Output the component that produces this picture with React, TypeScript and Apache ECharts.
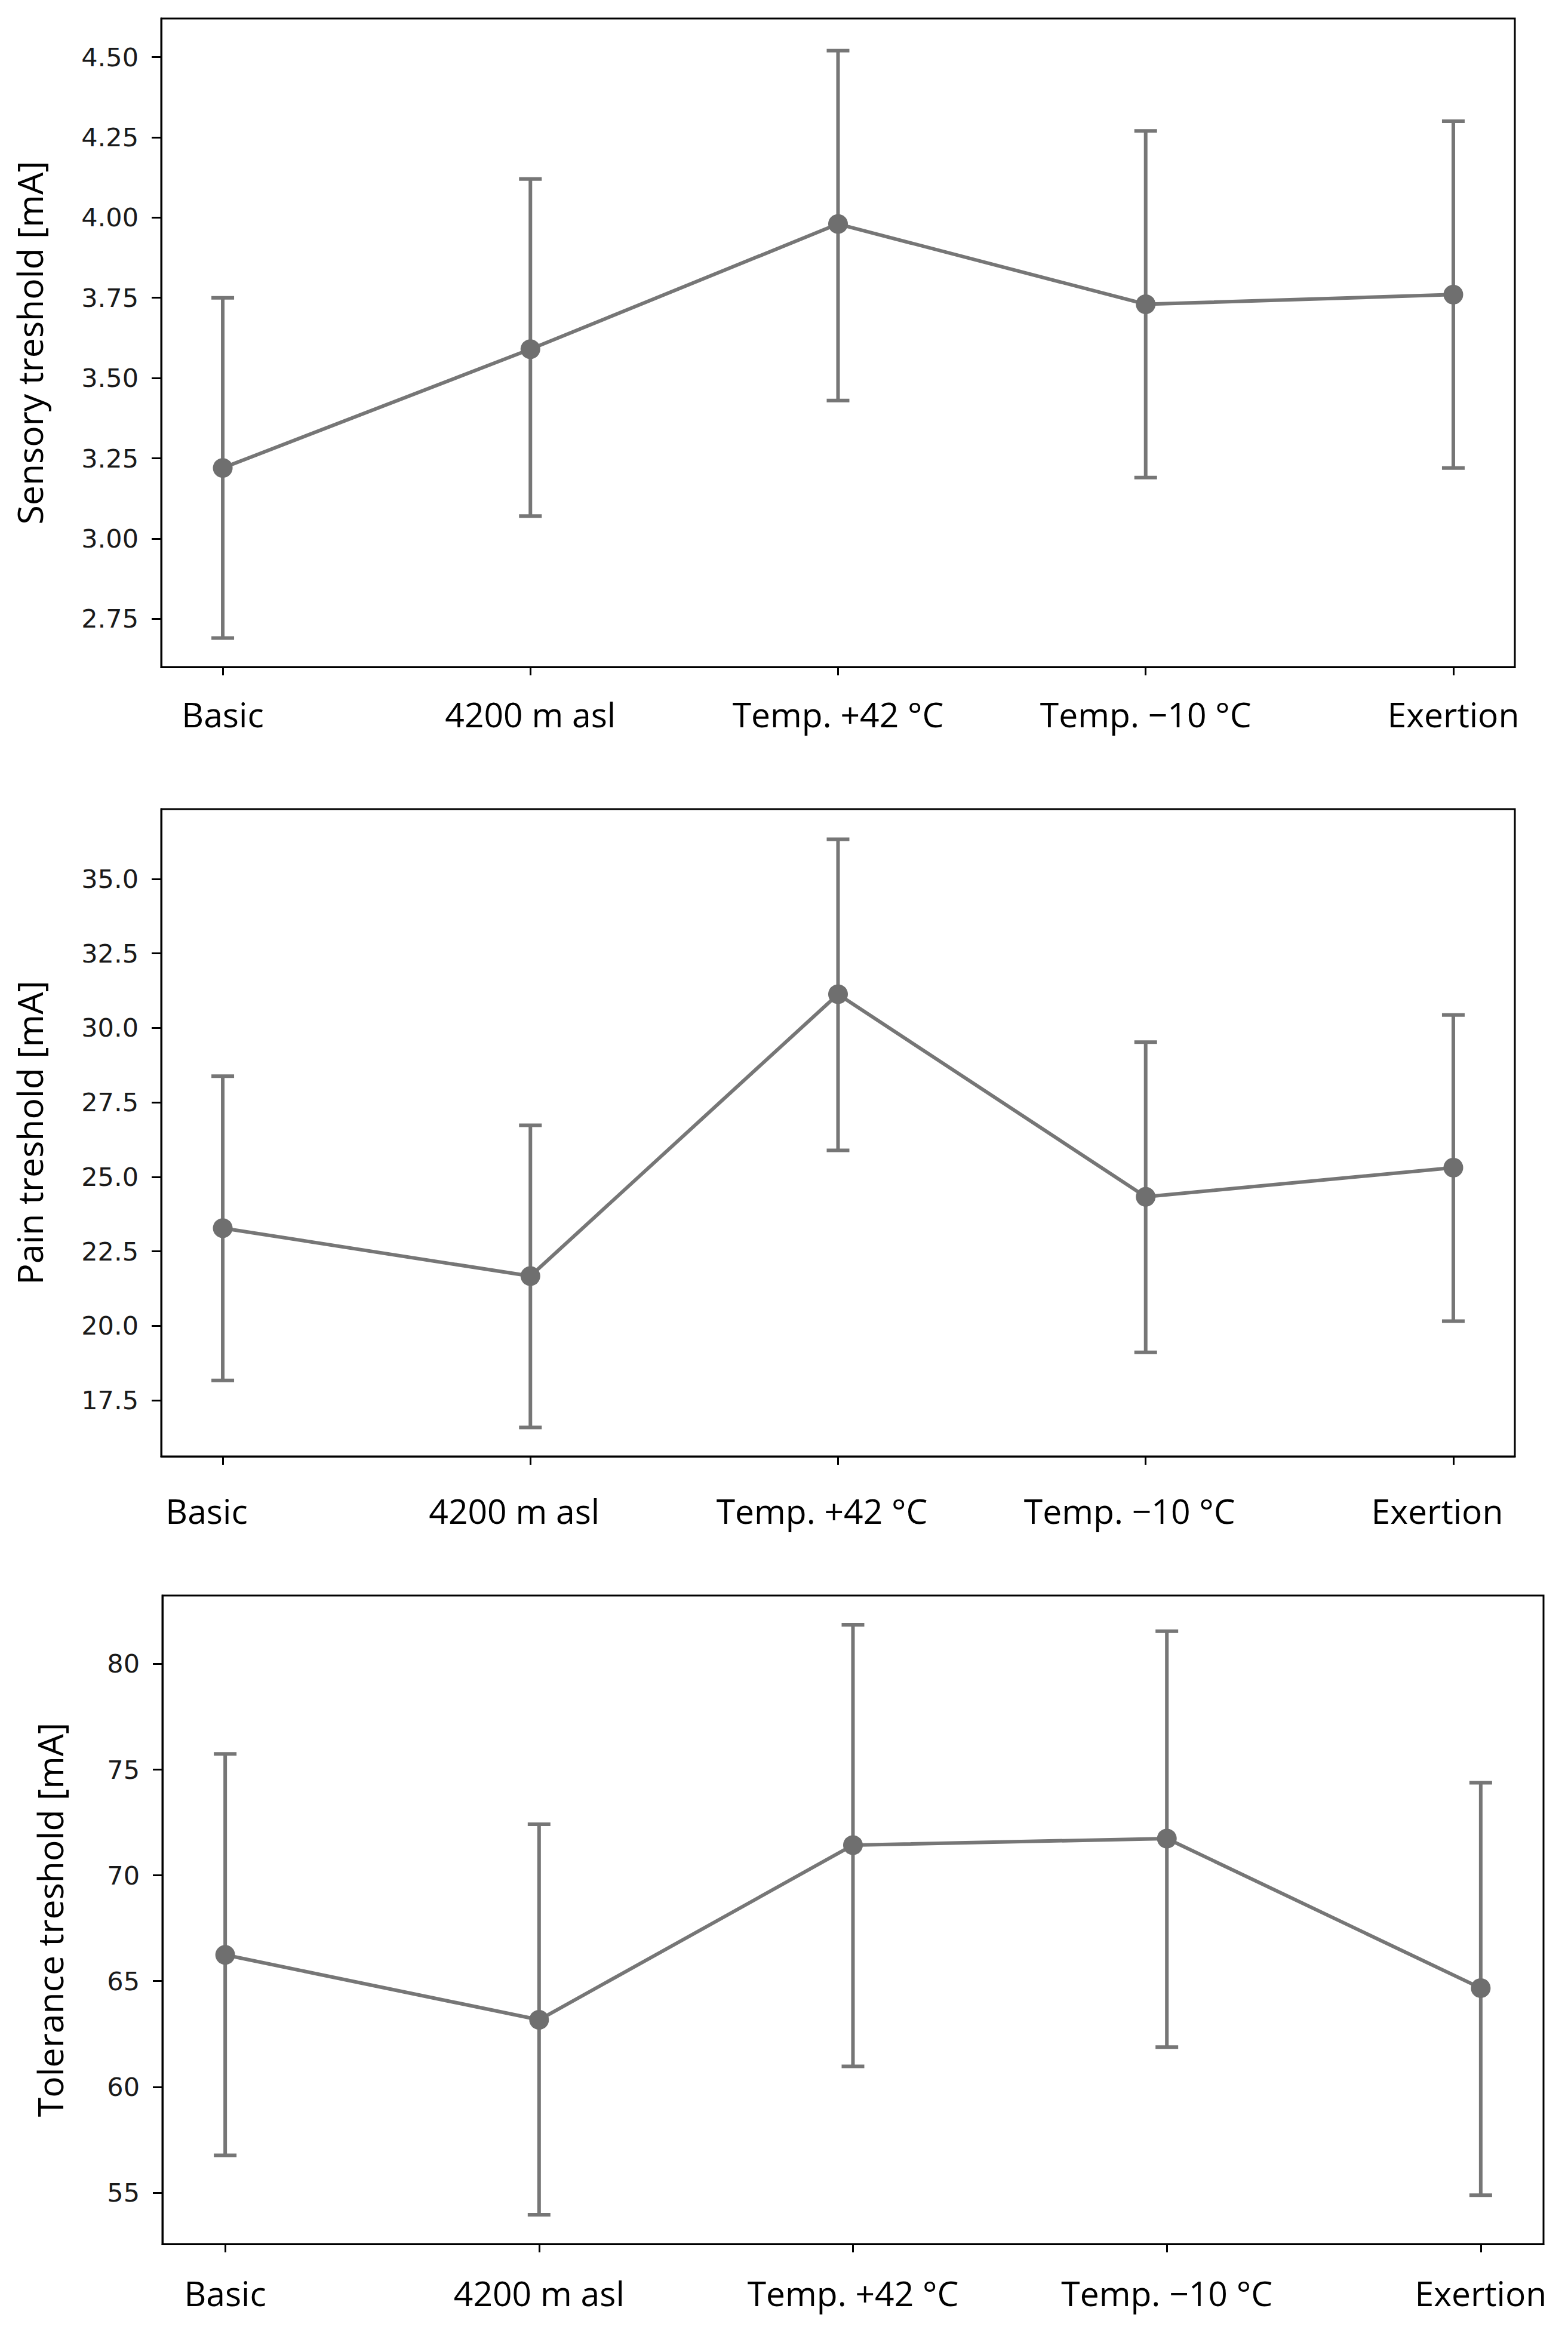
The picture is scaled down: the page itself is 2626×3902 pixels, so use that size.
import React, { useEffect, useRef } from "react";
import * as echarts from "echarts";

const categories = ["Basic", "4200 m asl", "Temp. +42 °C", "Temp. \u221210 °C", "Exertion"];

const sensoryMean = [3.22, 3.59, 3.98, 3.73, 3.76];
const sensoryLow = [2.69, 3.07, 3.43, 3.19, 3.22];
const sensoryHigh = [3.75, 4.12, 4.52, 4.27, 4.30];
const sensoryTicks = [2.75, 3.0, 3.25, 3.5, 3.75, 4.0, 4.25, 4.5];

const painMean = [23.28, 21.67, 31.13, 24.33, 25.31];
const painLow = [18.17, 16.59, 25.89, 19.11, 20.16];
const painHigh = [28.38, 26.73, 36.33, 29.52, 30.43];
const painTicks = [17.5, 20.0, 22.5, 25.0, 27.5, 30.0, 32.5, 35.0];

const toleranceMean = [66.24, 63.17, 71.43, 71.74, 64.67];
const toleranceLow = [56.76, 53.95, 60.97, 61.88, 54.88];
const toleranceHigh = [75.74, 72.42, 81.85, 81.54, 74.38];
const toleranceTicks = [55, 60, 65, 70, 75, 80];

const panels = [
  { name: "Sensory treshold [mA]", mean: sensoryMean, low: sensoryLow, high: sensoryHigh, ticks: sensoryTicks, min: 2.6, max: 4.62, dec: 2,
    grid: { left: 270, top: 31, width: 2267, height: 1086 }, xMargin: 50, xShift: 0, nameGap: 192 },
  { name: "Pain treshold [mA]", mean: painMean, low: painLow, high: painHigh, ticks: painTicks, min: 15.62, max: 37.34, dec: 1,
    grid: { left: 270, top: 1355, width: 2267, height: 1084 }, xMargin: 62, xShift: 27, nameGap: 192 },
  { name: "Tolerance treshold [mA]", mean: toleranceMean, low: toleranceLow, high: toleranceHigh, ticks: toleranceTicks, min: 52.57, max: 83.23, dec: 0,
    grid: { left: 272, top: 2672, width: 2313, height: 1086 }, xMargin: 53, xShift: 0, nameGap: 160 },
];

const LINE = "#767676";
const MARK = "#6f6f6f";
const catIdx = categories.map((_, i) => i);

export default function App() {
  const ref = useRef<HTMLDivElement>(null);
  useEffect(() => {
    if (!ref.current) return;
    const chart = echarts.init(ref.current, null, { renderer: "svg" });
    const grids: any[] = [];
    const xAxes: any[] = [];
    const yAxes: any[] = [];
    const series: any[] = [];
    panels.forEach((p, k) => {
      grids.push({ ...p.grid, show: true, borderColor: "#000", borderWidth: 3, containLabel: false });
      xAxes.push({
        type: "value", gridIndex: k, min: -0.2, max: 4.2,
        axisLine: { show: true, onZero: false, lineStyle: { color: "#000", width: 3 } },
        axisTick: { show: true, length: 14, customValues: catIdx, lineStyle: { color: "#000", width: 3 } },
        axisLabel: {
          show: true, customValues: catIdx, margin: p.xMargin,
          formatter: (v: number) => categories[Math.round(v)] ?? "",
          fontFamily: "Open Sans", fontSize: 57, color: "#000",
          padding: [0, p.xShift * 2, 0, 0],
        },
        splitLine: { show: false },
      });
      yAxes.push({
        type: "value", gridIndex: k, min: p.min, max: p.max,
        name: p.name, nameLocation: "middle", nameGap: p.nameGap, nameRotate: 90,
        nameTextStyle: { fontFamily: "Open Sans", fontSize: 59, color: "#000" },
        axisLine: { show: true, onZero: false, lineStyle: { color: "#000", width: 3 } },
        axisTick: { show: true, length: 16, customValues: p.ticks, lineStyle: { color: "#000", width: 3 } },
        axisLabel: {
          show: true, customValues: p.ticks, margin: 38,
          formatter: (v: number) => v.toFixed(p.dec),
          fontFamily: "DejaVu Sans", fontSize: 43, color: "#1a1a1a",
        },
        splitLine: { show: false },
      });
      series.push({
        type: "custom", xAxisIndex: k, yAxisIndex: k, z: 2,
        data: catIdx.map((i) => [i, p.low[i], p.high[i]]),
        renderItem: (params: any, api: any) => {
          const x = api.value(0);
          const lo = api.coord([x, api.value(1)]);
          const hi = api.coord([x, api.value(2)]);
          const hw = 19;
          const style = { stroke: LINE, lineWidth: 6 };
          return {
            type: "group",
            children: [
              { type: "line", shape: { x1: lo[0], y1: lo[1], x2: hi[0], y2: hi[1] }, style },
              { type: "line", shape: { x1: lo[0] - hw, y1: lo[1], x2: lo[0] + hw, y2: lo[1] }, style },
              { type: "line", shape: { x1: hi[0] - hw, y1: hi[1], x2: hi[0] + hw, y2: hi[1] }, style },
            ],
          };
        },
      });
      series.push({
        type: "line", xAxisIndex: k, yAxisIndex: k, z: 3,
        data: catIdx.map((i) => [i, p.mean[i]]),
        symbol: "circle", symbolSize: 33, showSymbol: true,
        itemStyle: { color: MARK },
        lineStyle: { color: LINE, width: 6 },
      });
    });
    chart.setOption({
      animation: false,
      backgroundColor: "#fff",
      grid: grids,
      xAxis: xAxes,
      yAxis: yAxes,
      series,
    });
    return () => chart.dispose();
  }, []);
  return <div ref={ref} style={{ position: "absolute", left: 0, top: 0, width: 2626, height: 3902 }} />;
}
